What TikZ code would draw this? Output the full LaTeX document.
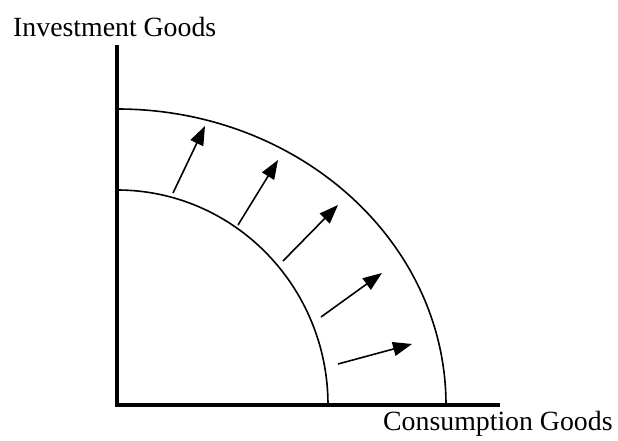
\documentclass[tikz,border=0pt]{standalone}
\usepackage{fontspec}
\setmainfont{Liberation Serif}
\usetikzlibrary{arrows.meta, positioning}

\begin{document}
\begin{tikzpicture}[
  x=1pt, y=1pt,
  every node/.style={font=\fontsize{27.8}{32}\selectfont, inner sep=0pt},
  axis/.style={line width=3.4pt},
  ppf/.style={line width=1.6pt},
  growth/.style={line width=1.6pt, -{Triangle[length=19pt, width=14pt]}}
]
\useasboundingbox (-117,-36) rectangle (501,405);

% Axes
\coordinate (origin) at (0,0);
\coordinate (ytop) at (0,360);
\coordinate (xend) at (383,0);
\draw[axis] (ytop) -- (origin) -- (xend);

\node[anchor=base west] (ylabel) at (-104,368) {Investment Goods};
\node[anchor=base west] (xlabel) at (266,-26) {Consumption Goods};

% Frontiers
\draw[ppf] (0,215) arc[start angle=90, end angle=0, x radius=211, y radius=215];
\draw[ppf] (0,296) arc[start angle=90, end angle=0, x radius=329, y radius=296];

% Outward shift
\foreach \i/\sx/\sy/\tx/\ty in {1/56/212/88/279, 2/121/180/161/245, 3/166/144/221/200, 4/204/88/265/132, 5/221/41/295/61} {
  \coordinate (s\i) at (\sx,\sy);
  \coordinate (t\i) at (\tx,\ty);
  \draw[growth] (s\i) -- (t\i);
}

\end{tikzpicture}
\end{document}
